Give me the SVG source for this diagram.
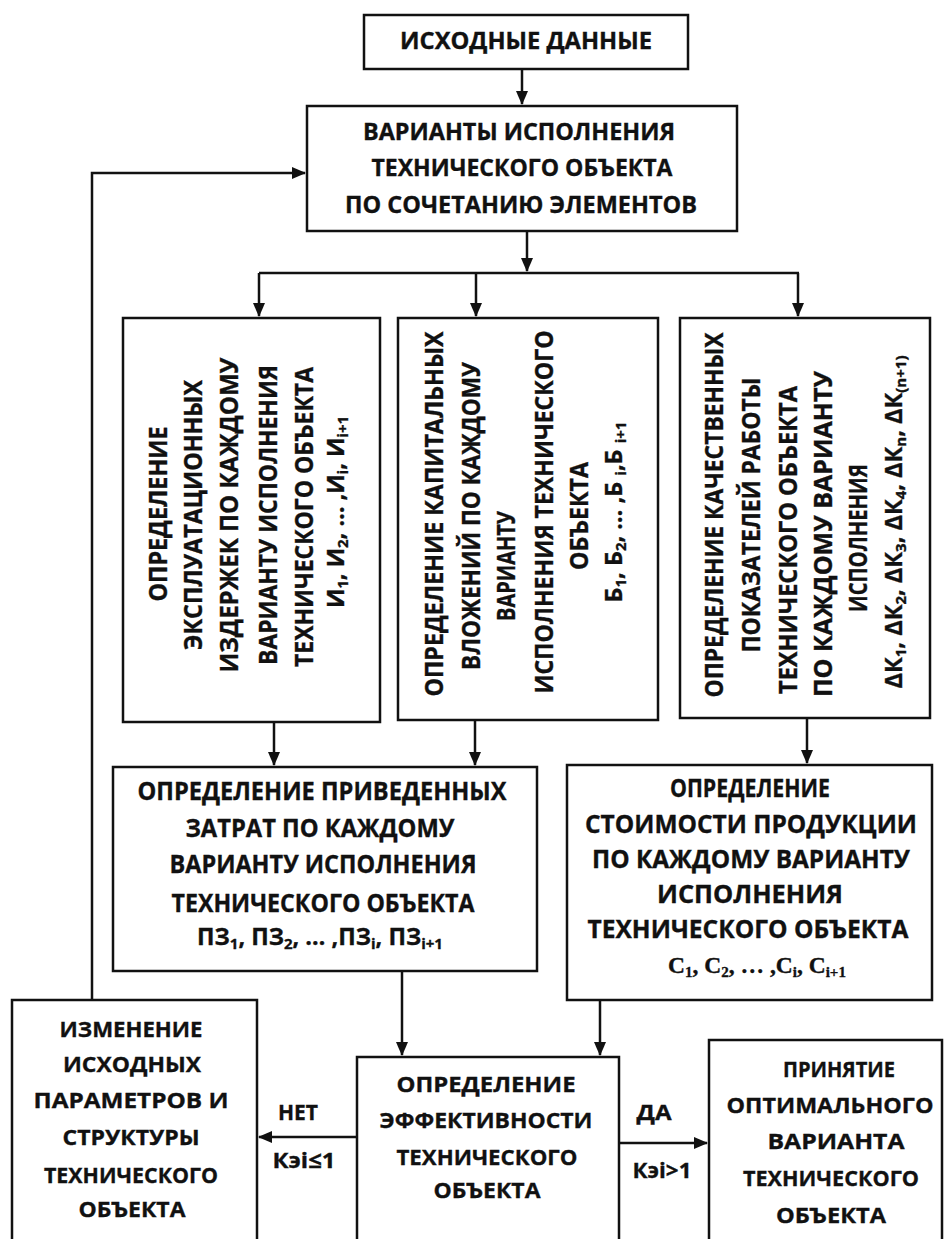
<svg xmlns="http://www.w3.org/2000/svg" width="947" height="1239" viewBox="0 0 947 1239">
<style>
.box{fill:#fff;stroke:#111;stroke-width:2.5}
.t{font-family:"Open Sans","Liberation Sans",sans-serif;font-weight:bold;fill:#111;text-anchor:middle;stroke:#111;stroke-width:0.35}
.f22{font-size:23px}
.f23{font-size:24.5px}
.f21{font-size:22px}
.fm{font-size:23.5px}
.s{font-size:15px;baseline-shift:-4px}
.serif{font-family:"Liberation Serif","DejaVu Serif",serif}
.c{fill:none;stroke:#111;stroke-width:2.5}
</style>
<defs>
<marker id="ah" viewBox="0 0 14 12" refX="13" refY="6" markerWidth="14" markerHeight="12" markerUnits="userSpaceOnUse" orient="auto">
<path d="M0,0 L14,6 L0,12 z" fill="#111"/>
</marker>
</defs>
<rect width="947" height="1239" fill="#fff"/>

<g id="connectors">
<path class="c" d="M522,69 V104" marker-end="url(#ah)"/>
<path class="c" d="M527,231 V271" marker-end="url(#ah)"/>
<path class="c" d="M259,273 H799"/>
<path class="c" d="M259,273 V316" marker-end="url(#ah)"/>
<path class="c" d="M476,273 V316" marker-end="url(#ah)"/>
<path class="c" d="M798,273 V316" marker-end="url(#ah)"/>
<path class="c" d="M274,722 V765" marker-end="url(#ah)"/>
<path class="c" d="M475,720 V765" marker-end="url(#ah)"/>
<path class="c" d="M807,718 V763" marker-end="url(#ah)"/>
<path class="c" d="M402,971 V1055" marker-end="url(#ah)"/>
<path class="c" d="M600,1000 V1055" marker-end="url(#ah)"/>
<path class="c" d="M357,1137 H259" marker-end="url(#ah)"/>
<path class="c" d="M619,1143 H707" marker-end="url(#ah)"/>
<path class="c" d="M92,1000 V173 H305" marker-end="url(#ah)"/>
<text class="t f21" x="298" y="1120" textLength="40" lengthAdjust="spacingAndGlyphs">НЕТ</text>
<text class="t f21" x="304" y="1168" textLength="63" lengthAdjust="spacingAndGlyphs">Кэi≤1</text>
<text class="t f21" x="654" y="1120" textLength="35" lengthAdjust="spacingAndGlyphs">ДА</text>
<text class="t f21" x="662" y="1178" textLength="59" lengthAdjust="spacingAndGlyphs">Кэi&gt;1</text>
</g>

<g id="n-input">
<rect class="box" x="364" y="15" width="324" height="54"/>
<text class="t f22" x="526" y="49" textLength="252" lengthAdjust="spacingAndGlyphs">ИСХОДНЫЕ ДАННЫЕ</text>
</g>

<g id="n-variants">
<rect class="box" x="307" y="106" width="430" height="125"/>
<text class="t f22" x="519" y="140" textLength="312" lengthAdjust="spacingAndGlyphs">ВАРИАНТЫ ИСПОЛНЕНИЯ</text>
<text class="t f22" x="522" y="176" textLength="301" lengthAdjust="spacingAndGlyphs">ТЕХНИЧЕСКОГО ОБЪЕКТА</text>
<text class="t f22" x="521" y="213" textLength="352" lengthAdjust="spacingAndGlyphs">ПО СОЧЕТАНИЮ ЭЛЕМЕНТОВ</text>
</g>

<g id="n-costs">
<rect class="box" x="123" y="318" width="257" height="404"/>
<text class="t f23" transform="translate(167,514) rotate(-90)" textLength="175" lengthAdjust="spacingAndGlyphs">ОПРЕДЕЛЕНИЕ</text>
<text class="t f23" transform="translate(202,515) rotate(-90)" textLength="270" lengthAdjust="spacingAndGlyphs">ЭКСПЛУАТАЦИОННЫХ</text>
<text class="t f23" transform="translate(238,515) rotate(-90)" textLength="315" lengthAdjust="spacingAndGlyphs">ИЗДЕРЖЕК ПО КАЖДОМУ</text>
<text class="t f23" transform="translate(277,515) rotate(-90)" textLength="300" lengthAdjust="spacingAndGlyphs">ВАРИАНТУ ИСПОЛНЕНИЯ</text>
<text class="t f23" transform="translate(313,517) rotate(-90)" textLength="300" lengthAdjust="spacingAndGlyphs">ТЕХНИЧЕСКОГО ОБЪЕКТА</text>
<text class="t fm" transform="translate(344,512) rotate(-90)">И<tspan class="s">1</tspan>, И<tspan class="s">2</tspan>, … ,И<tspan class="s">i</tspan>, И<tspan class="s">i+1</tspan></text>
</g>

<g id="n-capital">
<rect class="box" x="398" y="318" width="260" height="402"/>
<text class="t f23" transform="translate(443,514) rotate(-90)" textLength="365" lengthAdjust="spacingAndGlyphs">ОПРЕДЕЛЕНИЕ КАПИТАЛЬНЫХ</text>
<text class="t f23" transform="translate(480,516) rotate(-90)" textLength="308" lengthAdjust="spacingAndGlyphs">ВЛОЖЕНИЙ ПО КАЖДОМУ</text>
<text class="t f23" transform="translate(515,566) rotate(-90)" textLength="110" lengthAdjust="spacingAndGlyphs">ВАРИАНТУ</text>
<text class="t f23" transform="translate(553,512) rotate(-90)" textLength="363" lengthAdjust="spacingAndGlyphs">ИСПОЛНЕНИЯ ТЕХНИЧЕСКОГО</text>
<text class="t f23" transform="translate(588,516) rotate(-90)" textLength="108" lengthAdjust="spacingAndGlyphs">ОБЪЕКТА</text>
<text class="t fm" transform="translate(622,512) rotate(-90)">Б<tspan class="s">1</tspan>, Б<tspan class="s">2</tspan>, … ,Б <tspan class="s">i</tspan>,Б <tspan class="s">i+1</tspan></text>
</g>

<g id="n-quality">
<rect class="box" x="680" y="318" width="250" height="400"/>
<text class="t f23" transform="translate(723,515) rotate(-90)" textLength="365" lengthAdjust="spacingAndGlyphs">ОПРЕДЕЛЕНИЕ КАЧЕСТВЕННЫХ</text>
<text class="t f23" transform="translate(760,515) rotate(-90)" textLength="275" lengthAdjust="spacingAndGlyphs">ПОКАЗАТЕЛЕЙ  РАБОТЫ</text>
<text class="t f23" transform="translate(797,540) rotate(-90)" textLength="308" lengthAdjust="spacingAndGlyphs">ТЕХНИЧЕСКОГО ОБЪЕКТА</text>
<text class="t f23" transform="translate(832,534) rotate(-90)" textLength="326" lengthAdjust="spacingAndGlyphs">ПО КАЖДОМУ ВАРИАНТУ</text>
<text class="t f23" transform="translate(867,538) rotate(-90)" textLength="148" lengthAdjust="spacingAndGlyphs">ИСПОЛНЕНИЯ</text>
<text class="t fm" transform="translate(902,522) rotate(-90)">ΔК<tspan class="s">1</tspan>, ΔК<tspan class="s">2</tspan>, ΔК<tspan class="s">3</tspan>, ΔК<tspan class="s">4</tspan>, ΔК<tspan class="s">n</tspan>, ΔК<tspan class="s">(n+1)</tspan></text>
</g>

<g id="n-reduced">
<rect class="box" x="113" y="767" width="424" height="204"/>
<text class="t f23" x="322" y="800" textLength="369" lengthAdjust="spacingAndGlyphs">ОПРЕДЕЛЕНИЕ ПРИВЕДЕННЫХ</text>
<text class="t f23" x="320" y="837" textLength="269" lengthAdjust="spacingAndGlyphs">ЗАТРАТ ПО КАЖДОМУ</text>
<text class="t f23" x="323" y="873" textLength="307" lengthAdjust="spacingAndGlyphs">ВАРИАНТУ ИСПОЛНЕНИЯ</text>
<text class="t f23" x="323" y="912" textLength="303" lengthAdjust="spacingAndGlyphs">ТЕХНИЧЕСКОГО ОБЪЕКТА</text>
<text class="t fm" x="320" y="945">ПЗ<tspan class="s">1</tspan>, ПЗ<tspan class="s">2</tspan>, … ,ПЗ<tspan class="s">i</tspan>, ПЗ<tspan class="s">i+1</tspan></text>
</g>

<g id="n-product">
<rect class="box" x="567" y="765" width="365" height="235"/>
<text class="t f23" x="750" y="797" textLength="160" lengthAdjust="spacingAndGlyphs">ОПРЕДЕЛЕНИЕ</text>
<text class="t f23" x="751" y="833" textLength="332" lengthAdjust="spacingAndGlyphs">СТОИМОСТИ ПРОДУКЦИИ</text>
<text class="t f23" x="751" y="868" textLength="318" lengthAdjust="spacingAndGlyphs">ПО КАЖДОМУ ВАРИАНТУ</text>
<text class="t f23" x="750" y="903" textLength="186" lengthAdjust="spacingAndGlyphs">ИСПОЛНЕНИЯ</text>
<text class="t f23" x="748" y="938" textLength="321" lengthAdjust="spacingAndGlyphs">ТЕХНИЧЕСКОГО ОБЪЕКТА</text>
<text class="t serif fm" x="757" y="973">C<tspan class="s">1</tspan>, C<tspan class="s">2</tspan>, … ,C<tspan class="s">i</tspan>, C<tspan class="s">i+1</tspan></text>
</g>

<g id="n-change">
<rect class="box" x="12" y="1000" width="245" height="250"/>
<text class="t f21" x="131" y="1037" textLength="143" lengthAdjust="spacingAndGlyphs">ИЗМЕНЕНИЕ</text>
<text class="t f21" x="132" y="1072" textLength="138" lengthAdjust="spacingAndGlyphs">ИСХОДНЫХ</text>
<text class="t f21" x="131" y="1108" textLength="195" lengthAdjust="spacingAndGlyphs">ПАРАМЕТРОВ И</text>
<text class="t f21" x="131" y="1145" textLength="137" lengthAdjust="spacingAndGlyphs">СТРУКТУРЫ</text>
<text class="t f21" x="131" y="1183" textLength="174" lengthAdjust="spacingAndGlyphs">ТЕХНИЧЕСКОГО</text>
<text class="t f21" x="132" y="1217" textLength="107" lengthAdjust="spacingAndGlyphs">ОБЪЕКТА</text>
</g>

<g id="n-efficiency">
<rect class="box" x="357" y="1057" width="262" height="200"/>
<text class="t f21" x="486" y="1092" textLength="179" lengthAdjust="spacingAndGlyphs">ОПРЕДЕЛЕНИЕ</text>
<text class="t f21" x="486" y="1128" textLength="213" lengthAdjust="spacingAndGlyphs">ЭФФЕКТИВНОСТИ</text>
<text class="t f21" x="487" y="1165" textLength="181" lengthAdjust="spacingAndGlyphs">ТЕХНИЧЕСКОГО</text>
<text class="t f21" x="487" y="1198" textLength="107" lengthAdjust="spacingAndGlyphs">ОБЪЕКТА</text>
</g>

<g id="n-accept">
<rect class="box" x="709" y="1040" width="233" height="210"/>
<text class="t f21" x="839" y="1077" textLength="112" lengthAdjust="spacingAndGlyphs">ПРИНЯТИЕ</text>
<text class="t f21" x="830" y="1113" textLength="207" lengthAdjust="spacingAndGlyphs">ОПТИМАЛЬНОГО</text>
<text class="t f21" x="836" y="1149" textLength="137" lengthAdjust="spacingAndGlyphs">ВАРИАНТА</text>
<text class="t f21" x="831" y="1186" textLength="176" lengthAdjust="spacingAndGlyphs">ТЕХНИЧЕСКОГО</text>
<text class="t f21" x="831" y="1223" textLength="110" lengthAdjust="spacingAndGlyphs">ОБЪЕКТА</text>
</g>
</svg>
